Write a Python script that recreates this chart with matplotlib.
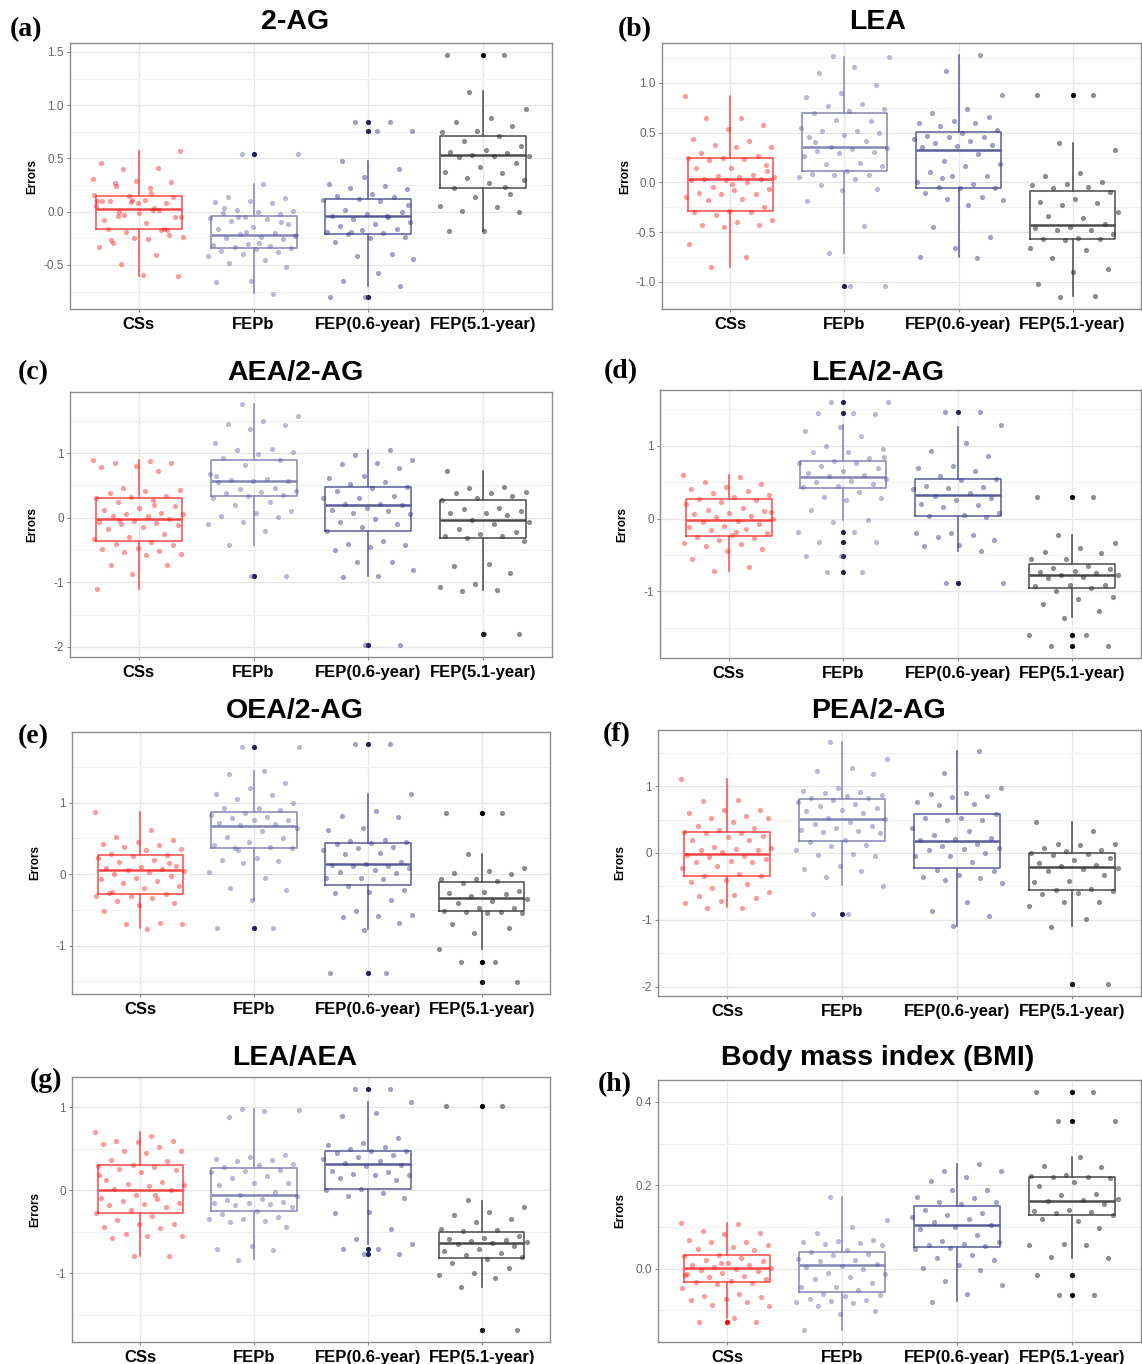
import matplotlib
matplotlib.use("Agg")
import matplotlib.pyplot as plt
from matplotlib.ticker import MultipleLocator, FormatStrFormatter

plt.rcParams['axes.unicode_minus'] = False
plt.rcParams['font.family'] = ['Liberation Sans', 'DejaVu Sans']

groups = ["CSs", "FEPb", "FEP(0.6-year)", "FEP(5.1-year)"]

# ---- panel (a) 2-AG ----
a_title = "2-AG"
a_box = [(-0.60, -0.165, 0.025, 0.146, 0.57), (-0.766, -0.345, -0.22, -0.04, 0.256),
         (-0.70, -0.21, -0.04, 0.12, 0.48), (-0.18, 0.22, 0.53, 0.71, 1.13)]
a_out = [[], [0.54], [0.84, 0.76, -0.80], [1.47]]
a_pts = [
    [0.31, 0.22, 0.27, 0.28, 0.29, 0.46, 0.41, 0.40, 0.57, 0.11, 0.10, 0.08, 0.09, 0.05, 0.02, -0.04, -0.05,
     -0.01, -0.08, -0.17, -0.19, -0.24, -0.26, -0.29, -0.22, -0.25, -0.33, -0.41, -0.49, -0.60, -0.59, -0.16,
     -0.16, 0.15, 0.16, 0.18, 0.24, 0.14, 0.08, 0.10, 0.02, -0.03, -0.05, -0.11, -0.27, -0.17, 0.11, 0.10, 0.03, 0.00],
    [0.54, 0.54, 0.26, 0.14, 0.13, 0.10, 0.09, 0.08, 0.02, 0.01, 0.00, -0.01, -0.02, -0.05, -0.06, -0.07, -0.09,
     -0.12, -0.14, -0.16, -0.20, -0.21, -0.22, -0.24, -0.25, -0.26, -0.30, -0.31, -0.32, -0.33, -0.34, -0.35,
     -0.37, -0.38, -0.40, -0.42, -0.45, -0.48, -0.52, -0.65, -0.66, -0.77, -0.05, -0.23, -0.29, 0.03, -0.10, -0.19],
    [0.84, 0.84, 0.76, 0.76, 0.48, 0.40, 0.33, 0.26, 0.24, 0.22, 0.21, 0.17, 0.15, 0.14, 0.12, 0.11, 0.10, 0.02,
     0.00, -0.02, -0.04, -0.05, -0.07, -0.10, -0.12, -0.13, -0.16, -0.17, -0.19, -0.20, -0.21, -0.24, -0.25,
     -0.28, -0.40, -0.42, -0.44, -0.58, -0.65, -0.70, -0.80, -0.80, -0.04, -0.19, 0.06],
    [1.47, 1.47, 1.12, 0.96, 0.88, 0.84, 0.80, 0.76, 0.75, 0.71, 0.66, 0.62, 0.58, 0.56, 0.55, 0.53, 0.52, 0.52,
     0.51, 0.46, 0.42, 0.37, 0.36, 0.32, 0.30, 0.27, 0.22, 0.17, 0.14, 0.05, 0.04, 0.01, 0.00, -0.18, -0.18, 0.23],
]

# ---- panel (b) LEA ----
b_title = "LEA"
b_box = [(-0.85, -0.29, 0.03, 0.25, 0.87), (-0.71, 0.12, 0.355, 0.70, 1.26),
         (-0.75, -0.06, 0.33, 0.51, 1.28), (-1.14, -0.57, -0.43, -0.085, 0.40)]
b_out = [[], [-1.04], [], [0.88]]
b_pts = [
    [0.87, 0.65, 0.65, 0.58, 0.54, 0.44, 0.42, 0.38, 0.36, 0.36, 0.30, 0.27, 0.25, 0.25, 0.24, 0.23, 0.18, 0.15,
     0.15, 0.08, 0.06, 0.05, 0.05, 0.03, 0.03, 0.02, 0.02, 0.00, -0.05, -0.07, -0.08, -0.11, -0.12, -0.12, -0.15,
     -0.17, -0.18, -0.25, -0.29, -0.30, -0.30, -0.33, -0.38, -0.40, -0.43, -0.43, -0.45, -0.62, -0.75, -0.85, 0.12, -0.02],
    [1.27, 1.26, 1.16, 1.10, 0.98, 0.90, 0.86, 0.79, 0.77, 0.74, 0.72, 0.70, 0.62, 0.63, 0.55, 0.52, 0.52, 0.50,
     0.48, 0.46, 0.42, 0.36, 0.35, 0.34, 0.32, 0.31, 0.30, 0.27, 0.20, 0.19, 0.17, 0.12, 0.09, 0.08, 0.08, 0.05,
     0.03, -0.03, -0.07, -0.08, -0.19, -0.44, -0.71, -1.04, -1.04, 0.41],
    [1.28, 1.12, 0.88, 0.74, 0.70, 0.66, 0.62, 0.60, 0.60, 0.57, 0.53, 0.50, 0.47, 0.46, 0.46, 0.44, 0.42, 0.40,
     0.38, 0.37, 0.36, 0.29, 0.22, 0.19, 0.17, 0.11, 0.07, 0.06, 0.00, -0.02, -0.05, -0.06, -0.06, -0.11, -0.15,
     -0.17, -0.18, -0.23, -0.45, -0.55, -0.66, -0.75, -0.76, 0.04],
    [0.88, 0.88, 0.40, 0.33, 0.10, 0.07, 0.00, -0.02, -0.03, -0.05, -0.06, -0.10, -0.17, -0.20, -0.21, -0.23,
     -0.30, -0.36, -0.34, -0.42, -0.45, -0.46, -0.48, -0.48, -0.52, -0.56, -0.57, -0.57, -0.58, -0.66, -0.68,
     -0.76, -0.87, -0.90, -1.02, -1.14, -1.15],
]

# ---- panel (c) AEA/2-AG ----
c_title = "AEA/2-AG"
c_box = [(-1.10, -0.36, -0.015, 0.30, 0.90), (-0.43, 0.33, 0.575, 0.90, 1.76),
         (-0.91, -0.20, 0.19, 0.48, 1.05), (-1.12, -0.32, -0.03, 0.27, 0.73)]
c_out = [[], [-0.90], [-1.97], [-1.80]]
c_pts = [
    [0.90, 0.88, 0.85, 0.84, 0.80, 0.78, 0.72, 0.46, 0.43, 0.41, 0.38, 0.34, 0.32, 0.30, 0.28, 0.24, 0.18, 0.15,
     0.12, 0.08, 0.06, 0.05, 0.03, 0.02, -0.02, -0.05, -0.07, -0.08, -0.10, -0.12, -0.15, -0.18, -0.25, -0.30,
     -0.33, -0.37, -0.40, -0.43, -0.47, -0.49, -0.52, -0.53, -0.56, -0.58, -0.73, -0.73, -0.87, -1.11, 0.20, -0.04],
    [1.76, 1.57, 1.50, 1.45, 1.43, 1.38, 1.16, 1.07, 1.05, 1.01, 0.99, 0.93, 0.89, 0.82, 0.68, 0.60, 0.59, 0.57,
     0.57, 0.56, 0.46, 0.45, 0.41, 0.40, 0.38, 0.35, 0.33, 0.30, 0.24, 0.19, 0.10, 0.07, 0.03, 0.01, -0.07, -0.10,
     -0.20, -0.43, -0.90, -0.90, 0.65],
    [1.05, 0.97, 0.90, 0.85, 0.83, 0.77, 0.64, 0.62, 0.56, 0.52, 0.48, 0.46, 0.42, 0.33, 0.31, 0.30, 0.22, 0.21,
     0.19, 0.15, 0.12, 0.10, 0.07, 0.05, -0.02, -0.07, -0.10, -0.14, -0.20, -0.36, -0.40, -0.42, -0.45, -0.50,
     -0.68, -0.69, -0.81, -0.90, -0.92, -1.97, -1.97],
    [0.73, 0.47, 0.46, 0.40, 0.38, 0.38, 0.34, 0.30, 0.28, 0.15, 0.13, 0.10, 0.08, 0.07, 0.04, -0.03, -0.07,
     -0.10, -0.18, -0.22, -0.25, -0.28, -0.29, -0.31, -0.36, -0.72, -0.75, -0.85, -1.03, -1.08, -1.12, -1.13,
     -1.80, -1.80],
]

# ---- panel (d) LEA/2-AG ----
d_title = "LEA/2-AG"
d_box = [(-0.72, -0.24, -0.02, 0.27, 0.60), (-0.02, 0.42, 0.57, 0.79, 1.29),
         (-0.45, 0.03, 0.32, 0.54, 1.26), (-1.36, -0.95, -0.78, -0.63, -0.23)]
d_out = [[], [1.60, 1.45, -0.18, -0.32, -0.52, -0.74], [1.47, -0.88], [0.29, -1.60, -1.75]]
d_pts = [
    [0.60, 0.57, 0.50, 0.48, 0.44, 0.41, 0.38, 0.35, 0.32, 0.30, 0.27, 0.25, 0.23, 0.20, 0.15, 0.12, 0.10, 0.08,
     0.06, 0.03, 0.02, 0.00, -0.03, -0.05, -0.07, -0.10, -0.12, -0.15, -0.16, -0.20, -0.23, -0.26, -0.27, -0.30,
     -0.33, -0.35, -0.38, -0.42, -0.44, -0.55, -0.66, -0.72, 0.09, -0.18],
    [1.60, 1.60, 1.45, 1.45, 1.44, 1.26, 1.20, 1.14, 1.00, 0.96, 0.92, 0.91, 0.83, 0.79, 0.77, 0.76, 0.72, 0.70,
     0.65, 0.62, 0.60, 0.58, 0.55, 0.52, 0.50, 0.48, 0.45, 0.44, 0.36, 0.29, 0.28, 0.25, 0.12, -0.02, -0.05,
     -0.18, -0.18, -0.32, -0.32, -0.52, -0.52, -0.74, -0.74, 0.84],
    [1.47, 1.47, 1.28, 1.04, 0.93, 0.86, 0.72, 0.70, 0.66, 0.58, 0.55, 0.53, 0.45, 0.43, 0.42, 0.40, 0.35, 0.31,
     0.28, 0.25, 0.20, 0.19, 0.16, 0.08, 0.05, 0.04, 0.02, -0.20, -0.20, -0.22, -0.25, -0.30, -0.36, -0.38,
     -0.45, -0.88, -0.88],
    [0.29, 0.29, -0.23, -0.33, -0.40, -0.46, -0.48, -0.55, -0.55, -0.65, -0.68, -0.70, -0.72, -0.73, -0.75,
     -0.77, -0.78, -0.80, -0.82, -0.92, -0.92, -0.93, -0.95, -0.99, -1.08, -1.10, -1.17, -1.27, -1.37, -1.60,
     -1.60, -1.75, -1.75],
]

# ---- panel (e) OEA/2-AG ----
e_title = "OEA/2-AG"
e_box = [(-0.76, -0.28, 0.06, 0.27, 0.87), (-0.36, 0.37, 0.67, 0.87, 1.44),
         (-0.77, -0.155, 0.14, 0.44, 1.12), (-1.05, -0.52, -0.34, -0.11, 0.28)]
e_out = [[], [1.78, -0.75], [1.82, -1.38], [0.85, -1.23, -1.51]]
e_pts = [
    [0.87, 0.61, 0.52, 0.47, 0.45, 0.42, 0.40, 0.38, 0.35, 0.33, 0.28, 0.27, 0.25, 0.22, 0.20, 0.17, 0.12, 0.10,
     0.08, 0.07, 0.06, 0.05, 0.03, 0.00, -0.02, -0.05, -0.07, -0.10, -0.13, -0.16, -0.20, -0.27, -0.28, -0.30,
     -0.31, -0.34, -0.38, -0.41, -0.43, -0.52, -0.68, -0.70, -0.70, -0.77, -0.25, 0.15],
    [1.78, 1.78, 1.44, 1.40, 1.28, 1.20, 1.12, 1.10, 1.05, 1.00, 0.93, 0.92, 0.90, 0.85, 0.83, 0.80, 0.78, 0.76,
     0.75, 0.72, 0.70, 0.68, 0.65, 0.60, 0.52, 0.51, 0.45, 0.41, 0.38, 0.37, 0.36, 0.23, 0.20, 0.18, 0.16, 0.03,
     -0.06, -0.20, -0.22, -0.36, -0.75, -0.75, 0.33],
    [1.82, 1.82, 1.12, 0.88, 0.81, 0.80, 0.64, 0.62, 0.48, 0.46, 0.45, 0.43, 0.42, 0.38, 0.36, 0.33, 0.30, 0.28,
     0.17, 0.14, 0.13, 0.12, 0.11, 0.08, 0.06, 0.03, 0.02, -0.05, -0.06, -0.07, -0.17, -0.22, -0.25, -0.27,
     -0.36, -0.51, -0.57, -0.58, -0.60, -0.68, -0.78, -1.38, -1.38],
    [0.85, 0.85, 0.28, 0.09, 0.05, 0.01, 0.00, -0.07, -0.07, -0.10, -0.12, -0.24, -0.25, -0.27, -0.28, -0.30,
     -0.35, -0.38, -0.40, -0.47, -0.48, -0.52, -0.53, -0.53, -0.54, -0.55, -0.70, -0.75, -0.82, -1.05, -1.23,
     -1.23, -1.51, -1.51],
]

# ---- panel (f) PEA/2-AG ----
f_title = "PEA/2-AG"
f_box = [(-0.81, -0.34, -0.015, 0.315, 1.11), (-0.48, 0.175, 0.505, 0.815, 1.66),
         (-1.10, -0.22, 0.185, 0.58, 1.52), (-1.10, -0.56, -0.215, 0.00, 0.47)]
f_out = [[], [-0.91], [], [-1.96]]
f_pts = [
    [1.11, 0.79, 0.78, 0.64, 0.64, 0.60, 0.56, 0.53, 0.52, 0.47, 0.40, 0.38, 0.35, 0.32, 0.30, 0.30, 0.26, 0.24,
     0.20, 0.19, 0.09, 0.07, 0.06, 0.04, 0.04, 0.01, -0.03, -0.05, -0.06, -0.09, -0.12, -0.13, -0.14, -0.19,
     -0.22, -0.32, -0.34, -0.35, -0.40, -0.44, -0.46, -0.52, -0.58, -0.63, -0.65, -0.68, -0.72, -0.75, -0.82, -0.82],
    [1.66, 1.40, 1.27, 1.23, 1.18, 0.97, 0.93, 0.92, 0.90, 0.87, 0.85, 0.83, 0.82, 0.80, 0.76, 0.74, 0.70, 0.68,
     0.65, 0.63, 0.60, 0.52, 0.51, 0.47, 0.44, 0.40, 0.38, 0.35, 0.33, 0.31, 0.30, 0.20, 0.17, 0.12, 0.10, 0.05,
     -0.01, -0.03, -0.04, -0.20, -0.24, -0.27, -0.36, -0.49, -0.91, -0.91],
    [1.52, 1.19, 0.97, 0.90, 0.88, 0.86, 0.84, 0.77, 0.74, 0.72, 0.58, 0.53, 0.52, 0.50, 0.50, 0.37, 0.33, 0.27,
     0.22, 0.21, 0.20, 0.13, 0.10, 0.08, 0.06, 0.04, 0.00, -0.04, -0.05, -0.14, -0.25, -0.27, -0.33, -0.36,
     -0.38, -0.40, -0.45, -0.74, -0.87, -0.94, -1.10],
    [0.47, 0.33, 0.14, 0.13, 0.12, 0.07, 0.04, 0.03, 0.00, -0.01, -0.03, -0.07, -0.10, -0.15, -0.18, -0.20,
     -0.22, -0.24, -0.27, -0.33, -0.42, -0.43, -0.54, -0.56, -0.57, -0.60, -0.62, -0.73, -0.73, -0.79, -0.99,
     -1.11, -1.96, -1.96],
]

# ---- panel (g) LEA/AEA ----
g_title = "LEA/AEA"
g_box = [(-0.79, -0.27, 0.005, 0.30, 0.70), (-0.83, -0.25, -0.05, 0.265, 0.98),
         (-0.64, 0.02, 0.32, 0.47, 1.07), (-1.16, -0.81, -0.63, -0.50, -0.13)]
g_out = [[], [], [1.22, -0.71, -0.77], [1.02, -1.68]]
g_pts = [
    [0.70, 0.65, 0.60, 0.60, 0.58, 0.56, 0.52, 0.48, 0.47, 0.45, 0.37, 0.35, 0.31, 0.29, 0.28, 0.26, 0.24, 0.22,
     0.13, 0.10, 0.08, 0.06, 0.05, 0.02, 0.01, -0.06, -0.09, -0.10, -0.13, -0.15, -0.16, -0.17, -0.20, -0.23,
     -0.27, -0.31, -0.36, -0.40, -0.41, -0.44, -0.45, -0.53, -0.55, -0.55, -0.57, -0.79, -0.79, 0.18, -0.05],
    [0.98, 0.97, 0.96, 0.88, 0.43, 0.40, 0.38, 0.37, 0.35, 0.32, 0.30, 0.28, 0.25, 0.23, 0.22, 0.17, 0.15, 0.09,
     0.09, 0.06, -0.02, -0.05, -0.07, -0.10, -0.12, -0.14, -0.15, -0.15, -0.16, -0.17, -0.20, -0.25, -0.28,
     -0.32, -0.34, -0.35, -0.37, -0.38, -0.44, -0.67, -0.70, -0.72, -0.84],
    [1.22, 1.22, 1.07, 0.93, 0.90, 0.63, 0.57, 0.55, 0.52, 0.50, 0.48, 0.47, 0.45, 0.43, 0.40, 0.38, 0.35, 0.33,
     0.30, 0.29, 0.23, 0.22, 0.20, 0.19, 0.18, 0.15, 0.12, 0.02, 0.01, -0.03, -0.07, -0.09, -0.26, -0.27, -0.47,
     -0.59, -0.65, -0.71, -0.71, -0.77, -0.77],
    [1.02, 1.02, -0.12, -0.20, -0.26, -0.30, -0.35, -0.38, -0.46, -0.48, -0.49, -0.55, -0.57, -0.58, -0.60,
     -0.61, -0.62, -0.63, -0.65, -0.67, -0.70, -0.73, -0.75, -0.78, -0.80, -0.83, -0.87, -0.93, -1.00, -1.02,
     -1.05, -1.16, -1.68, -1.68],
]

# ---- panel (h) BMI ----
h_title = "Body mass index (BMI)"
h_box = [(-0.118, -0.032, 0.003, 0.033, 0.11), (-0.146, -0.056, 0.009, 0.04, 0.171),
         (-0.078, 0.053, 0.106, 0.151, 0.25), (0.027, 0.128, 0.163, 0.219, 0.268)]
h_out = [[-0.127], [], [], [0.424, 0.355, -0.016, -0.062]]
h_pts = [
    [0.11, 0.107, 0.09, 0.086, 0.083, 0.07, 0.065, 0.063, 0.058, 0.053, 0.047, 0.045, 0.033, 0.03, 0.025, 0.02,
     0.018, 0.013, 0.01, 0.008, 0.005, 0.003, 0.0, -0.002, -0.005, -0.01, -0.013, -0.017, -0.02, -0.024, -0.03,
     -0.031, -0.033, -0.037, -0.045, -0.06, -0.065, -0.068, -0.072, -0.075, -0.08, -0.088, -0.09, -0.119,
     -0.127, -0.127, 0.015, -0.015],
    [0.171, 0.118, 0.10, 0.086, 0.07, 0.067, 0.065, 0.062, 0.06, 0.058, 0.044, 0.04, 0.036, 0.032, 0.023, 0.02,
     0.018, 0.012, 0.007, 0.005, 0.0, -0.01, -0.013, -0.02, -0.024, -0.033, -0.043, -0.043, -0.05, -0.06,
     -0.062, -0.065, -0.072, -0.075, -0.078, -0.08, -0.083, -0.09, -0.102, -0.108, -0.147],
    [0.25, 0.235, 0.234, 0.22, 0.21, 0.19, 0.19, 0.172, 0.17, 0.16, 0.16, 0.155, 0.14, 0.133, 0.13, 0.125, 0.12,
     0.111, 0.105, 0.10, 0.095, 0.082, 0.066, 0.063, 0.06, 0.058, 0.055, 0.05, 0.048, 0.033, 0.027, 0.022,
     0.008, 0.003, -0.002, -0.03, -0.04, -0.06, -0.08],
    [0.424, 0.424, 0.355, 0.355, 0.268, 0.246, 0.243, 0.225, 0.222, 0.221, 0.22, 0.217, 0.207, 0.198, 0.18,
     0.178, 0.167, 0.165, 0.162, 0.155, 0.14, 0.138, 0.137, 0.133, 0.13, 0.115, 0.12, 0.098, 0.06, 0.058, 0.056,
     0.028, 0.027, -0.016, -0.016, -0.062, -0.062],
]

# colours per group
box_cols = ["#ff4848", "#8585b5", "#5c5c98", "#4a4a4a"]
pt_cols = ["#ff2020", "#5a5aa0", "#3c3c86", "#303030"]
pt_alpha = [0.45, 0.42, 0.48, 0.55]
out_cols = ["#ff0000", "#1e1e5a", "#1e1e5a", "#000000"]

W, H = 1142, 1364
fig = plt.figure(figsize=(W / 100, H / 100), dpi=100)

# (label, title, box, outliers, points, tick step, fmt, left, right, top, bottom, title_x, title_y, lab_x, lab_y)
panels = [
    ("(a)", a_title, a_box, a_out, a_pts, 0.5, "%.1f", 70, 552, 43, 309, 295, 22, 10, 30),
    ("(b)", b_title, b_box, b_out, b_pts, 0.5, "%.1f", 662, 1141, 43, 309, 878, 22, 618, 30),
    ("(c)", c_title, c_box, c_out, c_pts, 1.0, "%.0f", 70, 552, 392, 657, 295, 373, 18, 373),
    ("(d)", d_title, d_box, d_out, d_pts, 1.0, "%.0f", 660, 1141, 390, 658, 878, 373, 604, 372),
    ("(e)", e_title, e_box, e_out, e_pts, 1.0, "%.0f", 72, 550, 732, 994, 295, 711, 18, 737),
    ("(f)", f_title, f_box, f_out, f_pts, 1.0, "%.0f", 658, 1141, 730, 996, 878, 711, 603, 735),
    ("(g)", g_title, g_box, g_out, g_pts, 1.0, "%.0f", 72, 550, 1077, 1342, 295, 1058, 30, 1080),
    ("(h)", h_title, h_box, h_out, h_pts, 0.2, "%.1f", 658, 1141, 1080, 1342, 878, 1058, 598, 1085),
]

for lab, title, box, outl, pts, step, fmt, l, r, t, b, tx, ty, lx, ly in panels:
    ax = fig.add_axes([l / W, 1 - b / H, (r - l) / W, (b - t) / H])
    for i in range(4):
        lo, q1, med, q3, hi = box[i]
        st = dict(whislo=lo, q1=q1, med=med, q3=q3, whishi=hi, fliers=[])
        c = box_cols[i]
        ax.bxp([st], positions=[i + 1], widths=0.75, showcaps=False, showfliers=False,
               boxprops=dict(color=c, lw=1.1), whiskerprops=dict(color=c, lw=1.1),
               medianprops=dict(color=c, lw=1.8), zorder=3)
        if outl[i]:
            ax.scatter([i + 1] * len(outl[i]), outl[i], s=14, color=out_cols[i], lw=0, zorder=4)
        n = len(pts[i])
        xs = [i + 1 + ((k * 0.618034 + 0.37 * i) % 1 - 0.5) * 0.8 for k in range(n)]
        ax.scatter(xs, pts[i], s=14, color=pt_cols[i], alpha=pt_alpha[i], lw=0, zorder=5)

    ax.set_xlim(0.4, 4.6)
    ax.margins(y=0.05)
    ax.set_xticks([1, 2, 3, 4])
    ax.set_xticklabels(groups, fontsize=12, fontweight="bold")
    ax.yaxis.set_major_locator(MultipleLocator(step))
    ax.yaxis.set_minor_locator(MultipleLocator(step / 2))
    ax.yaxis.set_major_formatter(FormatStrFormatter(fmt))
    ax.grid(which="major", color="#e6e6e6", lw=1.0)
    ax.grid(which="minor", axis="y", color="#f0f0f0", lw=0.8)
    ax.set_axisbelow(True)
    ax.tick_params(axis="y", which="major", length=2.5, color="#888888", labelsize=8.5,
                   labelcolor="#666666", pad=2)
    ax.tick_params(axis="y", which="minor", length=0)
    ax.tick_params(axis="x", length=2.5, color="#888888", pad=3, labelcolor="black")
    for sp in ax.spines.values():
        sp.set_color("#8c8c8c")
        sp.set_linewidth(1.0)
    ax.set_ylabel("Errors", fontsize=8.5, fontweight="bold")
    ax.yaxis.set_label_coords(-0.065, 0.5)
    fig.text(tx / W, 1 - ty / H, title, fontsize=20.5, fontweight="bold", ha="center", va="center")
    fig.text(lx / W, 1 - ly / H, lab, fontsize=20, fontweight="bold", ha="left", va="center",
             family=["Liberation Serif", "DejaVu Serif"])

fig.savefig("out.png", dpi=100)
